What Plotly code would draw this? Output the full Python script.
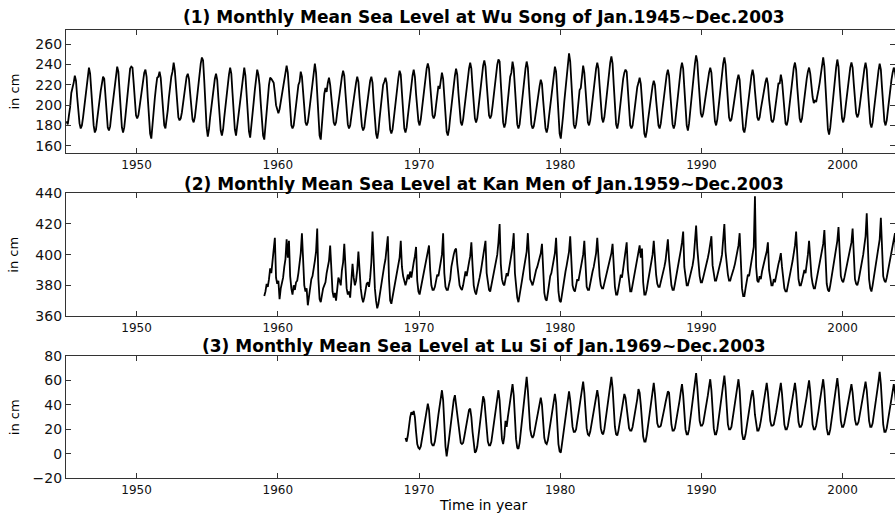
import plotly.graph_objects as go

# Monthly mean sea level (cm), one row of Jan..Dec per year
WU_SONG_START = 1945
WU_SONG = [
    [184, 181, 190, 198, 212, 216, 222, 229, 224, 208, 192, 182],
    [177, 180, 188, 199, 210, 220, 230, 237, 231, 214, 194, 180],
    [173, 176, 186, 197, 206, 214, 221, 228, 226, 210, 190, 178],
    [175, 179, 190, 201, 212, 222, 231, 238, 233, 215, 193, 178],
    [173, 178, 189, 202, 214, 224, 236, 238, 237, 222, 203, 190],
    [187, 190, 198, 208, 216, 224, 232, 235, 228, 207, 186, 172],
    [167, 183, 196, 207, 218, 227, 228, 233, 227, 211, 192, 180],
    [177, 184, 195, 208, 219, 228, 233, 242, 234, 220, 200, 188],
    [185, 187, 193, 203, 213, 222, 228, 231, 226, 212, 196, 186],
    [183, 188, 198, 210, 222, 233, 241, 247, 244, 224, 198, 178],
    [169, 176, 188, 199, 210, 219, 226, 231, 225, 207, 188, 175],
    [170, 176, 188, 200, 212, 222, 230, 237, 231, 212, 190, 176],
    [170, 180, 190, 201, 212, 223, 232, 237, 229, 208, 188, 174],
    [168, 178, 190, 203, 215, 226, 235, 230, 220, 202, 182, 170],
    [166, 180, 195, 208, 220, 227, 226, 224, 222, 212, 200, 196],
    [192, 196, 204, 212, 220, 228, 234, 239, 232, 214, 192, 180],
    [177, 180, 190, 201, 212, 220, 223, 233, 228, 211, 193, 183],
    [180, 183, 192, 203, 214, 225, 234, 241, 232, 208, 184, 170],
    [166, 182, 200, 211, 217, 213, 222, 227, 220, 206, 192, 183],
    [180, 183, 193, 203, 213, 222, 228, 234, 229, 212, 194, 181],
    [177, 180, 189, 198, 207, 216, 222, 228, 223, 207, 190, 179],
    [175, 178, 188, 198, 208, 217, 224, 228, 222, 203, 184, 172],
    [167, 174, 187, 200, 212, 220, 223, 227, 222, 206, 188, 176],
    [172, 176, 186, 197, 208, 218, 227, 234, 230, 212, 191, 177],
    [173, 178, 189, 200, 212, 221, 229, 235, 228, 211, 194, 184],
    [180, 186, 196, 207, 218, 228, 236, 241, 236, 220, 201, 190],
    [187, 190, 200, 210, 219, 216, 224, 232, 226, 206, 185, 174],
    [170, 176, 188, 200, 211, 221, 229, 236, 230, 212, 193, 183],
    [180, 186, 196, 207, 219, 229, 236, 242, 236, 218, 198, 187],
    [183, 187, 197, 209, 221, 231, 239, 244, 238, 221, 202, 190],
    [187, 190, 199, 210, 222, 232, 240, 245, 243, 222, 199, 183],
    [178, 182, 193, 206, 218, 228, 232, 243, 236, 216, 195, 181],
    [177, 181, 192, 204, 216, 227, 236, 243, 237, 217, 195, 181],
    [177, 179, 186, 195, 203, 211, 219, 225, 221, 205, 188, 177],
    [173, 178, 189, 200, 211, 220, 234, 238, 233, 212, 188, 172],
    [167, 176, 190, 204, 217, 229, 241, 251, 243, 221, 197, 181],
    [177, 181, 191, 203, 215, 217, 230, 239, 232, 214, 194, 183],
    [180, 185, 195, 207, 218, 228, 236, 242, 236, 219, 199, 187],
    [183, 188, 198, 210, 222, 233, 242, 248, 241, 220, 197, 181],
    [177, 183, 194, 206, 217, 226, 232, 235, 233, 215, 193, 180],
    [177, 180, 189, 199, 209, 218, 222, 227, 221, 203, 184, 172],
    [168, 174, 184, 194, 204, 213, 219, 224, 220, 205, 189, 180],
    [177, 182, 192, 203, 213, 222, 230, 235, 229, 212, 193, 181],
    [177, 181, 192, 204, 216, 227, 236, 242, 236, 217, 195, 180],
    [175, 182, 194, 207, 220, 231, 241, 249, 243, 225, 205, 192],
    [188, 192, 200, 209, 218, 226, 232, 237, 232, 215, 196, 184],
    [180, 186, 197, 209, 221, 232, 241, 247, 240, 222, 202, 188],
    [184, 186, 193, 202, 211, 218, 225, 230, 225, 207, 188, 176],
    [173, 179, 190, 201, 212, 221, 229, 235, 229, 214, 198, 188],
    [185, 188, 196, 204, 212, 219, 223, 227, 221, 206, 192, 185],
    [183, 186, 195, 205, 214, 222, 221, 230, 224, 208, 191, 182],
    [180, 185, 196, 208, 219, 229, 237, 242, 235, 217, 198, 187],
    [183, 187, 197, 208, 218, 226, 233, 237, 231, 218, 208, 202],
    [205, 203, 208, 215, 222, 230, 240, 247, 238, 214, 190, 176],
    [171, 178, 190, 203, 216, 227, 237, 245, 238, 219, 199, 187],
    [183, 188, 198, 209, 220, 230, 237, 242, 237, 221, 203, 192],
    [188, 191, 199, 209, 219, 228, 236, 242, 235, 215, 195, 182],
    [178, 183, 194, 205, 216, 226, 234, 241, 235, 217, 197, 184],
    [180, 185, 195, 206, 216, 225, 232, 237, 233, 225, 215, 205],
]

KAN_MEN_START = 1959
KAN_MEN = [
    [373, 376, 381, 379, 384, 391, 388, 396, 405, 411, 385, 381],
    [383, 371, 378, 382, 385, 392, 397, 410, 398, 409, 386, 378],
    [374, 380, 377, 382, 383, 388, 395, 401, 414, 392, 380, 376],
    [378, 367, 374, 380, 384, 386, 390, 396, 402, 417, 384, 371],
    [369, 374, 378, 380, 382, 388, 392, 396, 406, 385, 376, 372],
    [375, 370, 376, 385, 383, 380, 390, 395, 407, 386, 378, 374],
    [376, 372, 381, 394, 385, 380, 383, 390, 402, 388, 378, 372],
    [369, 372, 376, 381, 382, 379, 385, 395, 415, 392, 378, 370],
    [365, 368, 372, 378, 383, 389, 393, 397, 403, 412, 384, 370],
    [368, 372, 378, 381, 386, 388, 394, 398, 409, 392, 386, 382],
    [380, 383, 387, 384, 389, 385, 392, 395, 399, 405, 383, 376],
    [374, 378, 381, 384, 388, 392, 396, 400, 406, 390, 380, 377],
    [377, 379, 383, 387, 386, 390, 394, 400, 414, 388, 379, 377],
    [377, 380, 384, 392, 397, 400, 403, 404, 394, 387, 380, 378],
    [377, 380, 386, 389, 386, 392, 395, 399, 408, 393, 380, 376],
    [374, 378, 383, 385, 389, 394, 398, 402, 409, 388, 380, 377],
    [376, 380, 384, 388, 390, 395, 400, 408, 420, 394, 384, 381],
    [380, 384, 388, 386, 390, 394, 400, 405, 414, 388, 377, 372],
    [369, 373, 379, 383, 388, 392, 396, 402, 414, 392, 384, 382],
    [380, 383, 387, 390, 392, 395, 398, 401, 407, 386, 375, 371],
    [370, 375, 381, 386, 388, 392, 396, 401, 411, 388, 376, 370],
    [369, 374, 380, 385, 389, 393, 397, 402, 412, 390, 380, 377],
    [376, 380, 384, 383, 388, 392, 396, 400, 409, 388, 379, 377],
    [377, 381, 386, 389, 392, 396, 401, 411, 396, 386, 380, 378],
    [378, 381, 385, 388, 391, 395, 398, 401, 407, 390, 379, 374],
    [374, 378, 383, 387, 385, 390, 395, 400, 408, 390, 380, 376],
    [376, 380, 384, 388, 392, 397, 402, 406, 398, 404, 382, 374],
    [374, 377, 382, 386, 390, 394, 400, 409, 396, 387, 381, 379],
    [379, 382, 385, 388, 392, 396, 402, 410, 397, 386, 380, 377],
    [377, 381, 385, 389, 393, 397, 403, 408, 415, 392, 384, 380],
    [380, 383, 386, 389, 393, 398, 406, 419, 404, 392, 386, 382],
    [382, 385, 388, 390, 394, 398, 402, 406, 412, 393, 386, 383],
    [383, 386, 389, 392, 396, 400, 408, 420, 402, 392, 387, 383],
    [383, 386, 388, 391, 394, 398, 402, 406, 414, 390, 378, 373],
    [373, 378, 383, 387, 386, 391, 396, 400, 405, 438, 392, 383],
    [382, 386, 384, 389, 393, 396, 399, 402, 408, 390, 384, 380],
    [380, 384, 382, 387, 391, 394, 397, 401, 392, 384, 378, 376],
    [376, 380, 385, 389, 392, 396, 401, 406, 415, 394, 384, 380],
    [380, 383, 386, 390, 388, 393, 400, 409, 396, 386, 381, 378],
    [378, 382, 386, 390, 394, 398, 402, 407, 416, 394, 381, 377],
    [376, 380, 385, 389, 394, 399, 404, 409, 418, 396, 386, 383],
    [382, 385, 389, 392, 396, 400, 404, 408, 417, 395, 384, 381],
    [380, 383, 387, 391, 395, 400, 406, 412, 427, 398, 384, 378],
    [376, 380, 385, 389, 394, 399, 405, 410, 424, 397, 386, 383],
    [382, 385, 389, 393, 397, 401, 405, 410, 414, 396, 388, 384],
]

LU_SI_START = 1969
LU_SI = [
    [13, 10, 15, 24, 30, 34, 32, 35, 30, 18, 8, 5],
    [4, 6, 12, 18, 24, 30, 35, 41, 36, 20, 9, 7],
    [7, 10, 16, 24, 32, 39, 46, 52, 44, 24, 6, -2],
    [8, 12, 20, 28, 38, 44, 48, 40, 30, 20, 12, 9],
    [8, 9, 14, 20, 26, 31, 36, 37, 30, 18, 6, 1],
    [2, 6, 14, 22, 30, 38, 47, 44, 34, 20, 10, 7],
    [7, 10, 17, 25, 33, 41, 47, 52, 44, 26, 12, 8],
    [14, 27, 22, 30, 37, 44, 51, 57, 48, 28, 12, 5],
    [4, 9, 18, 28, 37, 46, 55, 63, 52, 34, 20, 15],
    [13, 15, 20, 26, 32, 38, 43, 46, 40, 26, 13, 9],
    [8, 11, 17, 24, 30, 36, 44, 49, 42, 24, 8, 2],
    [1, 8, 16, 24, 31, 38, 45, 51, 44, 32, 22, 18],
    [18, 20, 26, 32, 38, 44, 52, 59, 50, 34, 21, 16],
    [15, 18, 24, 30, 36, 41, 47, 52, 46, 32, 21, 17],
    [16, 20, 27, 34, 41, 48, 56, 63, 54, 35, 22, 16],
    [15, 19, 25, 31, 37, 43, 49, 46, 38, 28, 21, 19],
    [19, 22, 27, 33, 39, 45, 53, 50, 40, 25, 14, 10],
    [10, 15, 22, 30, 38, 45, 52, 58, 49, 34, 25, 22],
    [22, 23, 27, 32, 37, 42, 47, 51, 50, 36, 24, 19],
    [19, 21, 26, 32, 38, 44, 51, 57, 48, 32, 20, 16],
    [16, 20, 28, 36, 44, 51, 59, 66, 55, 38, 27, 23],
    [23, 25, 30, 36, 42, 48, 55, 61, 52, 34, 21, 16],
    [16, 20, 27, 34, 41, 48, 56, 64, 54, 36, 24, 20],
    [20, 22, 28, 34, 40, 46, 53, 61, 52, 32, 17, 12],
    [12, 16, 23, 30, 36, 42, 48, 52, 45, 32, 23, 19],
    [19, 22, 27, 33, 39, 45, 52, 58, 50, 36, 27, 23],
    [23, 24, 28, 34, 40, 46, 53, 58, 49, 34, 24, 20],
    [20, 23, 28, 34, 40, 46, 52, 58, 50, 36, 26, 22],
    [22, 24, 29, 35, 41, 47, 54, 60, 51, 35, 24, 20],
    [20, 23, 28, 35, 42, 48, 55, 61, 52, 34, 21, 16],
    [16, 20, 27, 34, 41, 48, 55, 62, 53, 37, 27, 22],
    [22, 25, 30, 35, 41, 46, 52, 57, 50, 37, 28, 24],
    [24, 26, 31, 37, 42, 48, 54, 59, 52, 37, 27, 22],
    [22, 25, 31, 38, 45, 52, 59, 67, 57, 38, 24, 18],
    [18, 21, 27, 33, 40, 46, 52, 57, 50, 38, 30, 26],
]

TITLES = [
    "(1) Monthly Mean Sea Level at Wu Song of Jan.1945~Dec.2003",
    "(2) Monthly Mean Sea Level at Kan Men of Jan.1959~Dec.2003",
    "(3) Monthly Mean Sea Level at Lu Si of Jan.1969~Dec.2003",
]
X_TICKS = [1950, 1960, 1970, 1980, 1990, 2000]
Y_TICKS = [
    [160, 180, 200, 220, 240, 260],
    [360, 380, 400, 420, 440],
    [-20, 0, 20, 40, 60, 80],
]
Y_RANGES = [[152.8, 274.1], [360, 440], [-20, 80]]
X_RANGE = [1945, 2003.71]
Y_LABEL = "in cm"
X_LABEL = "Time in year"


def monthly_series(start_year, rows):
    t, v = [], []
    for i, row in enumerate(rows):
        for m, val in enumerate(row):
            t.append(start_year + i + (m + 0.5) / 12.0)
            v.append(val)
    return t, v


W, H = 895, 513
LEFT = 66
# plot boxes in pixel rows (top, bottom)
BOXES = [(30, 153), (193.3, 316), (356, 478.3)]
TITLE_Y = [17, 184, 346]

FONT = "DejaVu Sans"
AXIS_COLOR = "#333333"

fig = go.Figure()
series = [(WU_SONG_START, WU_SONG), (KAN_MEN_START, KAN_MEN), (LU_SI_START, LU_SI)]

layout = dict(
    width=W, height=H,
    margin=dict(l=LEFT, r=0, t=0, b=0),
    paper_bgcolor="white", plot_bgcolor="white",
    showlegend=False,
    font=dict(family=FONT, size=11, color="#111111"),
    annotations=[],
)

for k, (start, rows) in enumerate(series):
    t, v = monthly_series(start, rows)
    n = k + 1
    xa = "x" if n == 1 else f"x{n}"
    ya = "y" if n == 1 else f"y{n}"
    fig.add_trace(go.Scatter(x=t, y=v, mode="lines", xaxis=xa, yaxis=ya,
                             line=dict(color="black", width=1.8),
                             hoverinfo="skip"))
    top, bot = BOXES[k]
    dom = [1 - bot / H, 1 - top / H]
    axis_x = dict(domain=[0, 1], range=X_RANGE, tickvals=X_TICKS,
                  ticks="inside", ticklen=5, tickwidth=1, tickcolor=AXIS_COLOR,
                  showline=True, linecolor=AXIS_COLOR, linewidth=1.3,
                  mirror="ticks", showgrid=False, zeroline=False,
                  anchor=ya, tickfont=dict(family=FONT, size=12),
                  ticklabelstandoff=0, automargin=False)
    axis_y = dict(domain=dom, range=Y_RANGES[k], tickvals=Y_TICKS[k],
                  ticks="inside", ticklen=5, tickwidth=1, tickcolor=AXIS_COLOR,
                  showline=True, linecolor=AXIS_COLOR, linewidth=1.3,
                  mirror=False, showgrid=False, zeroline=False,
                  anchor=xa, tickfont=dict(family=FONT, size=14),
                  automargin=False)
    layout["xaxis" if n == 1 else f"xaxis{n}"] = axis_x
    layout["yaxis" if n == 1 else f"yaxis{n}"] = axis_y

    # right-hand tick marks only (the box is open on the right)
    rn = n + 3
    layout[f"yaxis{rn}"] = dict(domain=dom, range=Y_RANGES[k], tickvals=Y_TICKS[k],
                                ticks="inside", ticklen=5, tickwidth=1,
                                tickcolor=AXIS_COLOR, showticklabels=False,
                                showline=False, showgrid=False, zeroline=False,
                                overlaying=ya, side="right", anchor=xa)
    fig.add_trace(go.Scatter(x=[None], y=[None], xaxis=xa, yaxis=f"y{rn}",
                             mode="lines", hoverinfo="skip"))

    layout["annotations"].append(dict(
        text=f"<b>{TITLES[k]}</b>", xref="paper", yref="paper",
        x=(484 - LEFT) / (W - LEFT), y=1 - TITLE_Y[k] / H,
        xanchor="center", yanchor="middle", showarrow=False,
        font=dict(family=FONT, size=17, color="black")))
    layout["annotations"].append(dict(
        text=Y_LABEL, xref="paper", yref="paper",
        x=(14 - LEFT) / (W - LEFT), y=1 - (top + bot) / 2 / H,
        xanchor="center", yanchor="middle", textangle=-90, showarrow=False,
        font=dict(family=FONT, size=13, color="black")))

layout["annotations"].append(dict(
    text=X_LABEL, xref="paper", yref="paper",
    x=(483 - LEFT) / (W - LEFT), y=1 - 505 / H,
    xanchor="center", yanchor="middle", showarrow=False,
    font=dict(family=FONT, size=14, color="black")))

fig.update_layout(**layout)
fig.write_html("out.html")
